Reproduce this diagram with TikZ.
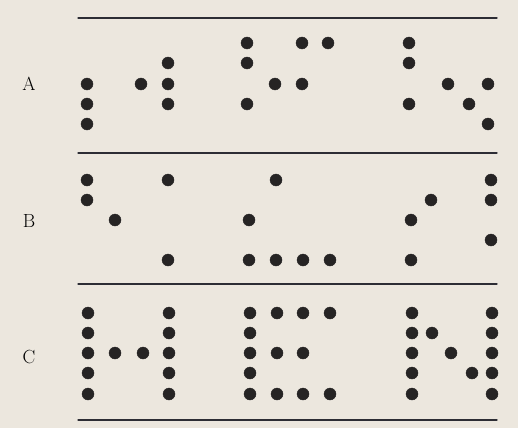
\documentclass[tikz,border=0pt]{standalone}
\usepackage{tkz-euclide}
\usetikzlibrary{calc}
\definecolor{PaperClr}{RGB}{236,231,222}
\definecolor{DotClr}{RGB}{38,36,36}
\definecolor{RuleClr}{RGB}{45,45,52}

\begin{document}
\begin{tikzpicture}[x=1pt,y=-1pt]
\fill[PaperClr] (0,0) rectangle (518,428);
\useasboundingbox (0,0) rectangle (518,428);
\tkzSetUpLine[line width=1.3pt,color=RuleClr]
\tkzSetUpPoint[fill=DotClr,color=DotClr]

% rules
\tkzDefPoints{78/18/R1,497/18/R2,78/153/R3,497/153/R4}
\tkzDefPoints{78/284/R5,497/284/R6,78/420/R7,497/420/R8}
\tkzDrawSegments(R1,R2 R3,R4 R5,R6 R7,R8)

% row A
\tkzDefPoints{87/84/a1,87/104/a2,87/124/a3,141/84/a4,168/63/a5,168/84/a6,168/104/a7}
\tkzDefPoints{247/43/a8,247/63/a9,247/104/a10,302/43/a11,328/43/a12,275/84/a13,302/84/a14}
\tkzDefPoints{409/43/a15,409/63/a16,409/104/a17,448/84/a18,488/84/a19,469/104/a20,488/124/a21}

% row B
\tkzDefPoints{87/180/b1,87/200/b2,115/220/b3,168/180/b4,249/220/b5,168/260/b6,249/260/b7}
\tkzDefPoints{276/180/b8,276/260/b9,303/260/b10,330/260/b11}
\tkzDefPoints{411/220/b12,411/260/b13,431/200/b14,491/180/b15,491/200/b16,491/240/b17}

% row C
\tkzDefPoints{88/313/c1,88/333/c2,88/353/c3,88/373/c4,88/394/c5,115/353/c6,143/353/c7}
\tkzDefPoints{169/313/c8,169/333/c9,169/353/c10,169/373/c11,169/394/c12}
\tkzDefPoints{250/313/c13,250/333/c14,250/353/c15,250/373/c16,250/394/c17}
\tkzDefPoints{277/313/c18,277/353/c19,277/394/c20,303/313/c21,303/353/c22,303/394/c23,330/313/c24,330/394/c25}
\tkzDefPoints{412/313/c26,412/333/c27,412/353/c28,412/373/c29,412/394/c30}
\tkzDefPoints{432/333/c31,451/353/c32,472/373/c33}
\tkzDefPoints{492/313/c34,492/333/c35,492/353/c36,492/373/c37,492/394/c38}

\tkzDrawPoints[size=12](a1,a2,a3,a4,a5,a6,a7,a8,a9,a10,a11,a12,a13,a14,a15,a16,a17,a18,a19,a20,a21)
\tkzDrawPoints[size=12](b1,b2,b3,b4,b5,b6,b7,b8,b9,b10,b11,b12,b13,b14,b15,b16,b17)
\tkzDrawPoints[size=12](c1,c2,c3,c4,c5,c6,c7,c8,c9,c10,c11,c12,c13,c14,c15,c16,c17,c18,c19)
\tkzDrawPoints[size=12](c20,c21,c22,c23,c24,c25,c26,c27,c28,c29,c30,c31,c32,c33,c34,c35,c36,c37,c38)

% labels
\node[font=\fontsize{19}{19}\selectfont] (labA) at (29,84) {A};
\node[font=\fontsize{19}{19}\selectfont] (labB) at (29,221) {B};
\node[font=\fontsize{19}{19}\selectfont] (labC) at (29,357) {C};

\end{tikzpicture}
\end{document}
